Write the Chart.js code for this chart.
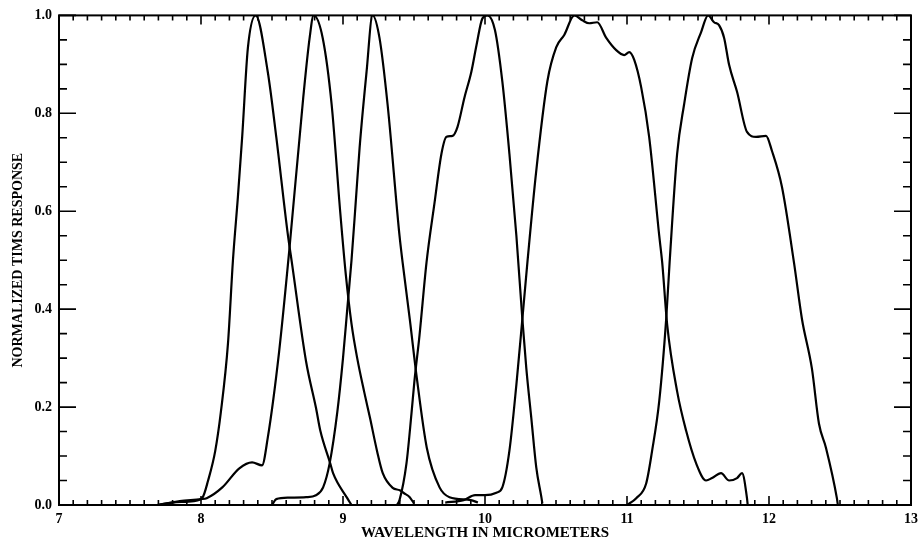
<!DOCTYPE html>
<html>
<head>
<meta charset="utf-8">
<script src="https://cdn.jsdelivr.net/npm/chart.js@4"></script>
<style>
  body { margin: 0; background: #fff; }
  #wrap { width: 924px; height: 550px; }
</style>
</head>
<body>
<div id="wrap"><canvas id="timsChart"></canvas></div>
<script>
// TIMS band response curves
const band1X = [7.69, 7.8, 7.95, 8.01, 8.05, 8.1, 8.14, 8.19, 8.225, 8.26, 8.29, 8.33, 8.385, 8.47, 8.53, 8.61, 8.64, 8.74, 8.81, 8.84, 8.91, 8.93, 9.03, 9.06]
const band1Y = [0, 0.005, 0.008, 0.015, 0.05, 0.11, 0.19, 0.33, 0.5, 0.63, 0.752, 0.933, 1.0, 0.885, 0.752, 0.556, 0.495, 0.293, 0.198, 0.152, 0.085, 0.065, 0.014, 0]

const band2X = [7.7, 7.85, 8.0, 8.04, 8.15, 8.27, 8.36, 8.43, 8.47, 8.55, 8.62, 8.72, 8.765, 8.793, 8.857, 8.92, 8.98, 9.02, 9.06, 9.1, 9.15, 9.19, 9.24, 9.28, 9.35, 9.4, 9.43, 9.47, 9.5]
const band2Y = [0, 0.008, 0.012, 0.014, 0.036, 0.075, 0.087, 0.081, 0.137, 0.313, 0.515, 0.832, 0.954, 1.0, 0.954, 0.818, 0.6, 0.47, 0.37, 0.3, 0.23, 0.178, 0.11, 0.065, 0.035, 0.03, 0.024, 0.016, 0.003]

const band3X = [8.5, 8.53, 8.62, 8.74, 8.81, 8.86, 8.906, 8.96, 9.0, 9.03, 9.06, 9.09, 9.117, 9.166, 9.208, 9.257, 9.314, 9.398, 9.42, 9.47, 9.52, 9.59, 9.68, 9.75, 9.9, 9.95]
const band3Y = [0, 0.012, 0.015, 0.016, 0.02, 0.036, 0.085, 0.19, 0.3, 0.4, 0.5, 0.62, 0.73, 0.885, 1.0, 0.954, 0.818, 0.55, 0.495, 0.38, 0.259, 0.117, 0.036, 0.016, 0.01, 0.005]

const band4X = [9.38, 9.398, 9.447, 9.482, 9.503, 9.539, 9.588, 9.644, 9.693, 9.729, 9.771, 9.806, 9.855, 9.904, 9.94, 9.982, 10.017, 10.07, 10.122, 10.172, 10.221, 10.263, 10.291, 10.326, 10.361, 10.397, 10.404]
const band4Y = [0, 0.01, 0.085, 0.186, 0.253, 0.347, 0.495, 0.616, 0.717, 0.752, 0.754, 0.772, 0.832, 0.885, 0.939, 0.994, 1.0, 0.97, 0.865, 0.717, 0.55, 0.38, 0.279, 0.178, 0.077, 0.016, 0.003]

const band5X = [9.72, 9.85, 9.93, 10.0, 10.08, 10.122, 10.172, 10.221, 10.26, 10.3, 10.36, 10.439, 10.502, 10.558, 10.629, 10.685, 10.734, 10.79, 10.854, 10.924, 10.98, 11.016, 11.051, 11.1, 11.156, 11.227, 11.248, 11.283, 11.353, 11.416, 11.487, 11.557, 11.599, 11.662, 11.719, 11.775, 11.81, 11.845, 11.85]
const band5Y = [0.005, 0.01, 0.02, 0.02, 0.025, 0.036, 0.111, 0.246, 0.37, 0.5, 0.68, 0.865, 0.935, 0.96, 1.0, 0.99, 0.984, 0.986, 0.954, 0.929, 0.919, 0.925, 0.909, 0.853, 0.752, 0.55, 0.495, 0.368, 0.232, 0.152, 0.085, 0.05, 0.055, 0.065, 0.05, 0.055, 0.065, 0.014, 0]

const band6X = [11.0, 11.065, 11.135, 11.177, 11.227, 11.276, 11.3, 11.353, 11.402, 11.459, 11.522, 11.571, 11.613, 11.648, 11.684, 11.719, 11.775, 11.845, 11.909, 11.979, 12.021, 12.091, 12.176, 12.232, 12.302, 12.352, 12.401, 12.478, 12.485]
const band6Y = [0, 0.014, 0.044, 0.111, 0.212, 0.38, 0.495, 0.717, 0.818, 0.913, 0.966, 1.0, 0.986, 0.98, 0.954, 0.899, 0.844, 0.762, 0.752, 0.754, 0.723, 0.65, 0.495, 0.38, 0.279, 0.166, 0.117, 0.014, 0]

const xTickLabels = ['7', '8', '9', '10', '11', '12', '13']
const yTickLabels = ['0.0', '0.2', '0.4', '0.6', '0.8', '1.0']

const bands = [[band1X, band1Y], [band2X, band2Y], [band3X, band3Y], [band4X, band4Y], [band5X, band5Y], [band6X, band6Y]]

const serif = "'Liberation Serif', 'DejaVu Serif', serif"

// frame + inward ticks on all four sides, like the old plot
const frameTicks = {
    id: 'frameTicks',
    afterDatasetsDraw(chart) {
        const {ctx, chartArea: a, scales: {x, y}} = chart
        ctx.save()
        ctx.strokeStyle = '#000'
        ctx.lineWidth = 2
        ctx.strokeRect(a.left, a.top, a.right - a.left, a.bottom - a.top)
        ctx.lineWidth = 1.6
        ctx.beginPath()
        for (let i = 0; i <= 60; i++) {
            const px = x.getPixelForValue(7 + i / 10)
            const len = i % 10 === 0 ? 9 : 5
            ctx.moveTo(px, a.bottom); ctx.lineTo(px, a.bottom - len)
            ctx.moveTo(px, a.top); ctx.lineTo(px, a.top + len)
        }
        for (let i = 0; i <= 20; i++) {
            const py = y.getPixelForValue(i * 0.05)
            const len = i % 4 === 0 ? 17 : 8
            ctx.moveTo(a.left, py); ctx.lineTo(a.left + len, py)
            ctx.moveTo(a.right, py); ctx.lineTo(a.right - len, py)
        }
        ctx.stroke()
        ctx.restore()
    }
}

const timsChart = new Chart(document.getElementById('timsChart'), {
    type: 'line',
    data: {
        datasets: bands.map(([xs, ys], i) => ({
            label: 'Band ' + (i + 1),
            data: xs.map((v, j) => ({x: v, y: ys[j]})),
            borderColor: '#000',
            borderWidth: 2.2,
            pointRadius: 0,
            cubicInterpolationMode: 'monotone',
            fill: false
        }))
    },
    options: {
        animation: false,
        responsive: true,
        maintainAspectRatio: false,
        layout: { padding: { top: 9, right: 12, left: 10, bottom: 8 } },
        plugins: { legend: { display: false }, tooltip: { enabled: false } },
        scales: {
            x: {
                type: 'linear',
                min: 7,
                max: 13,
                afterFit: (scale) => { scale.height = 37 },
                grid: { display: false, drawTicks: false },
                border: { display: false },
                ticks: {
                    stepSize: 1,
                    padding: 6,
                    maxRotation: 0,
                    color: '#000',
                    font: { family: serif, size: 14, weight: 'bold' },
                    callback: (v) => xTickLabels[Math.round(v) - 7]
                },
                title: {
                    display: true,
                    text: 'WAVELENGTH IN MICROMETERS',
                    color: '#000',
                    padding: 0,
                    font: { family: serif, size: 15, weight: 'bold' }
                }
            },
            y: {
                min: 0,
                max: 1,
                afterFit: (scale) => { scale.width = 49 },
                grid: { display: false, drawTicks: false },
                border: { display: false },
                ticks: {
                    stepSize: 0.2,
                    padding: 7,
                    color: '#000',
                    font: { family: serif, size: 14, weight: 'bold' },
                    callback: (v) => yTickLabels[Math.round(v * 5)]
                },
                title: {
                    display: true,
                    text: 'NORMALIZED TIMS RESPONSE',
                    color: '#000',
                    padding: 0,
                    font: { family: serif, size: 14, weight: 'bold' }
                }
            }
        }
    },
    plugins: [frameTicks]
})
</script>
</body>
</html>
